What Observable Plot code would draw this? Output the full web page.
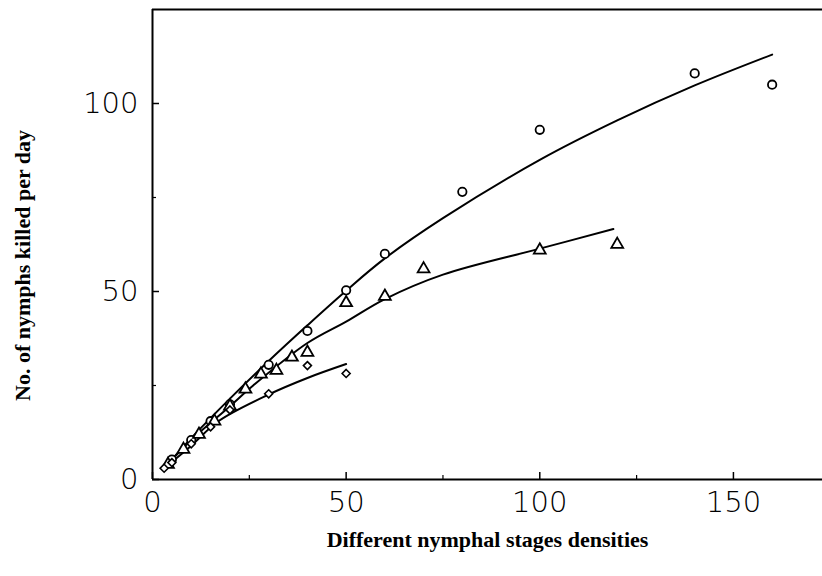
<!DOCTYPE html>
<html>
<head>
<meta charset="utf-8">
<script src="https://cdn.jsdelivr.net/npm/d3@7"></script>
<script src="https://cdn.jsdelivr.net/npm/@observablehq/plot@0.6"></script>
<style>
  html, body { margin: 0; padding: 0; background: #fff; }
  #chart svg { display: block; }
</style>
</head>
<body>
<div id="chart"></div>
<script>
// ---- data ----
const circleX = [5, 10, 15, 20, 30, 40, 50, 60, 80, 100, 140, 160];
const circleY = [5.3, 10.5, 15.5, 20, 30.5, 39.5, 50.3, 60, 76.5, 93, 108, 105];

const triangleX = [4, 8, 12, 16, 20, 24, 28, 32, 36, 40, 50, 60, 70, 100, 120];
const triangleY = [4, 8, 12, 15.5, 19.5, 24, 28, 29, 32.5, 33.8, 47, 48.7, 56, 61, 62.5];

const diamondX = [3, 5, 10, 15, 20, 30, 40, 50];
const diamondY = [3, 4.5, 9.5, 14, 18.5, 22.8, 30.3, 28.2];

// fitted curves as drawn in the reference
const circleCurveX = [3, 10, 20, 30, 40, 50, 60, 75, 100, 120, 140, 160];
const circleCurveY = [3, 11, 21.5, 31.5, 41, 50.2, 58.8, 69.5, 85, 95.5, 104.8, 113];
const triangleCurveX = [3, 10, 20, 26, 40, 50, 60, 75, 100, 119];
const triangleCurveY = [3, 10.5, 19.5, 25, 36.3, 42, 48, 54.5, 61.4, 66.6];
const diamondCurveX = [3, 10, 17, 30, 40, 50];
const diamondCurveY = [3, 9, 15.5, 22.6, 27, 30.7];

const xDomain = [0, 173];
const yDomain = [0, 125];
const xMajor = [0, 50, 100, 150];
const xMinor = [25, 75, 125];
const yMajor = [0, 50, 100];
const yMinor = [25, 75];

const xTitle = "Different nymphal stages densities";
const yTitle = "No. of nymphs killed per day";

const zip = (xs, ys) => xs.map((x, i) => ({x, y: ys[i]}));

const tickFont = "'DejaVu Sans', sans-serif";
const titleFont = "'Liberation Serif', 'DejaVu Serif', serif";

const chart = Plot.plot({
  width: 822,
  height: 576,
  marginLeft: 152,
  marginRight: 0,
  marginTop: 9,
  marginBottom: 97,
  style: {background: "#fff", color: "#000"},
  x: {domain: xDomain},
  y: {domain: yDomain},
  marks: [
    // frame (left, bottom, top)
    Plot.ruleX([xDomain[0]], {stroke: "#000", strokeWidth: 2}),
    Plot.ruleY([yDomain[0]], {stroke: "#000", strokeWidth: 2}),
    Plot.ruleY([yDomain[1]], {stroke: "#000", strokeWidth: 2}),
    // inward ticks
    Plot.axisX({ticks: xMajor, tickSize: -7, text: null, label: null, strokeWidth: 1.5}),
    Plot.axisX({ticks: xMinor, tickSize: -4, text: null, label: null, strokeWidth: 1.2}),
    Plot.axisY({ticks: yMajor, tickSize: -7, text: null, label: null, strokeWidth: 1.5}),
    Plot.axisY({ticks: yMinor, tickSize: -4, text: null, label: null, strokeWidth: 1.2}),
    // tick labels
    Plot.axisX({ticks: xMajor, tickSize: 0, tickPadding: 12, label: null,
      fontSize: 29, fontWeight: 200, fontFamily: tickFont, tickFormat: d => String(d)}),
    Plot.axisY({ticks: yMajor, tickSize: 0, tickPadding: 14, label: null,
      fontSize: 29, fontWeight: 200, fontFamily: tickFont, tickFormat: d => String(d)}),
    // fitted curves
    Plot.line(zip(circleCurveX, circleCurveY), {x: "x", y: "y", curve: "catmull-rom", stroke: "#000", strokeWidth: 2}),
    Plot.line(zip(triangleCurveX, triangleCurveY), {x: "x", y: "y", curve: "catmull-rom", stroke: "#000", strokeWidth: 2}),
    Plot.line(zip(diamondCurveX, diamondCurveY), {x: "x", y: "y", curve: "catmull-rom", stroke: "#000", strokeWidth: 2}),
    // observed points
    Plot.dot(zip(circleX, circleY), {x: "x", y: "y", symbol: "circle", r: 4.2, stroke: "#000", strokeWidth: 1.8, fill: "#fff"}),
    Plot.dot(zip(triangleX, triangleY), {x: "x", y: "y", symbol: "triangle", r: 4.4, stroke: "#000", strokeWidth: 1.8, fill: "#fff"}),
    Plot.dot(zip(diamondX, diamondY), {x: "x", y: "y", symbol: "diamond2", r: 3.6, stroke: "#000", strokeWidth: 1.6, fill: "#fff"}),
    // axis titles
    Plot.text([xTitle], {frameAnchor: "bottom", dy: 67, fontSize: 22, fontWeight: "bold", fontFamily: titleFont, fill: "#000"}),
    Plot.text([yTitle], {frameAnchor: "left", textAnchor: "middle", rotate: -90, dx: -130, dy: 21, fontSize: 22, fontWeight: "bold", fontFamily: titleFont, fill: "#000"})
  ]
});

document.getElementById("chart").appendChild(chart);
</script>
</body>
</html>
